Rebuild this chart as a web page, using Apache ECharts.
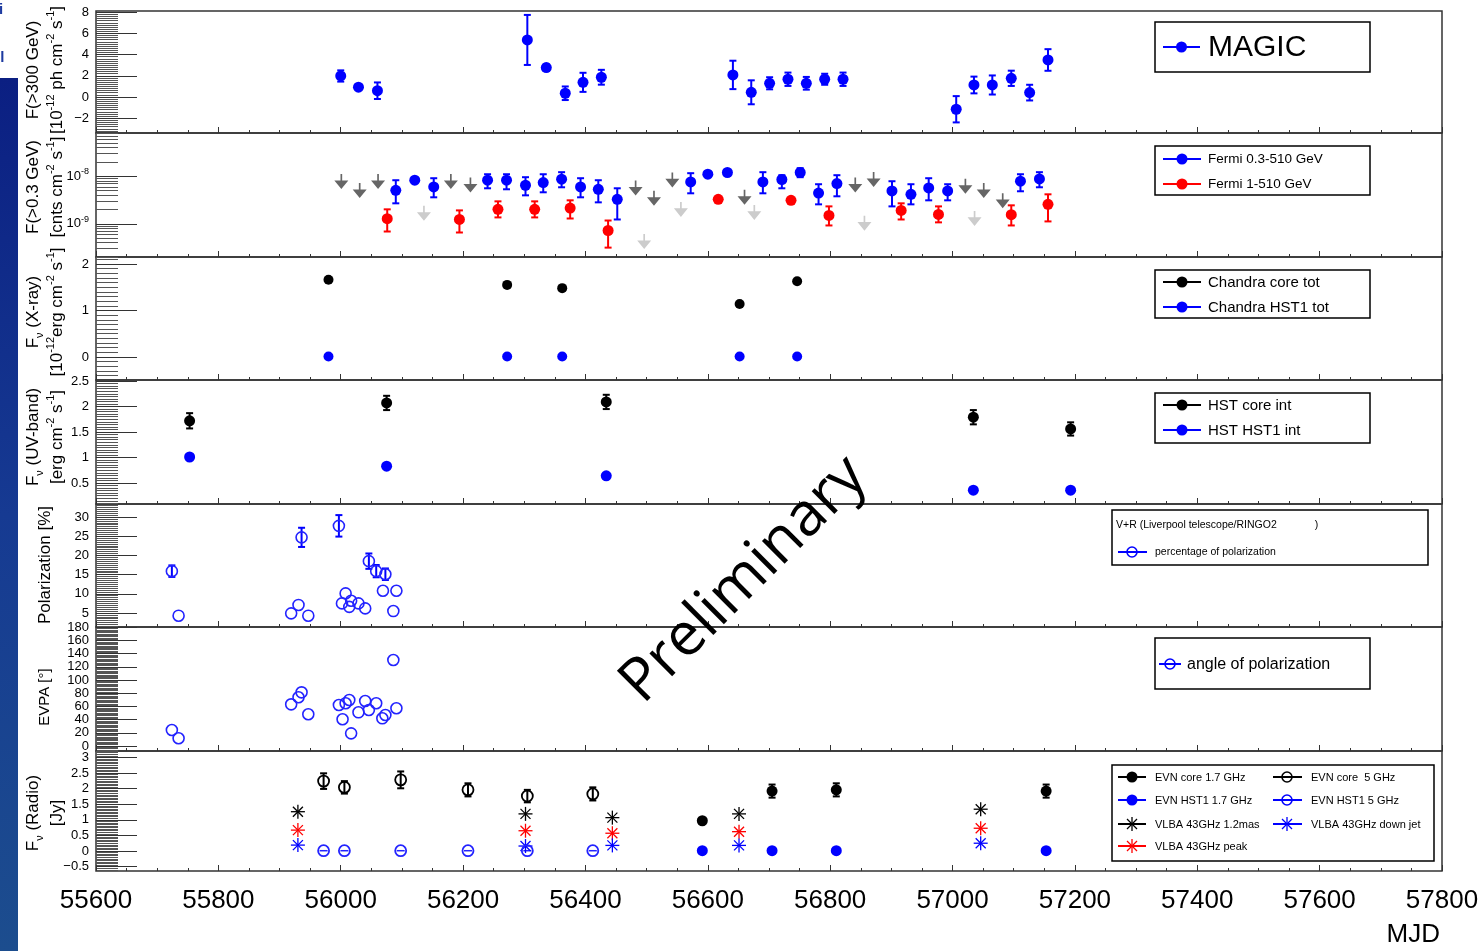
<!DOCTYPE html>
<html><head><meta charset="utf-8">
<script src="https://cdn.jsdelivr.net/npm/echarts@6/dist/echarts.min.js"></script>
<style>html,body{margin:0;padding:0;background:#fff;}#c{width:1484px;height:951px;}</style>
</head><body><div id="c"></div>
<script>
// ---------------- DATA ----------------
const mjdTicks = [55600, 55800, 56000, 56200, 56400, 56600, 56800, 57000, 57200, 57400, 57600, 57800];
const magicTicks = [-2, 0, 2, 4, 6, 8];
const fermiTicks = [1e-9, 1e-8];
const xrayTicks = [0, 1, 2];
const uvTicks = [0.5, 1, 1.5, 2, 2.5];
const polTicks = [5, 10, 15, 20, 25, 30];
const evpaTicks = [0, 20, 40, 60, 80, 100, 120, 140, 160, 180];
const radioTicks = [-0.5, 0, 0.5, 1, 1.5, 2, 2.5, 3];

// MAGIC F(>300 GeV) [1e-12 ph cm-2 s-1]
const magicMJD  = [56000, 56029, 56060, 56305, 56336, 56367, 56396, 56426, 56641, 56671, 56701, 56731, 56761, 56791, 56821, 57006, 57035, 57065, 57096, 57126, 57156];
const magicFlux = [1.98, 0.92, 0.59, 5.38, 2.77, 0.35, 1.38, 1.86, 2.08, 0.44, 1.29, 1.67, 1.29, 1.67, 1.67, -1.16, 1.13, 1.13, 1.76, 0.41, 3.49];
const magicErr  = [0.53, 0.2, 0.78, 2.36, 0.3, 0.64, 0.9, 0.7, 1.34, 1.13, 0.57, 0.63, 0.6, 0.52, 0.63, 1.24, 0.79, 0.9, 0.72, 0.74, 1.02];

// Fermi 0.3-510 GeV
const fermiMJD  = [56090, 56121, 56152, 56240, 56271, 56302, 56331, 56361, 56392, 56421, 56452, 56572, 56600, 56632, 56690, 56721, 56751, 56781, 56811, 56901, 56932, 56961, 56992, 57111, 57142];
const fermiFlux = [5.06e-9, 8.23e-9, 5.94e-9, 8.23e-9, 8.23e-9, 6.45e-9, 7.36e-9, 8.64e-9, 5.94e-9, 5.31e-9, 3.26e-9, 7.58e-9, 1.10e-8, 1.197e-8, 7.58e-9, 8.52e-9, 1.197e-8, 4.43e-9, 7.01e-9, 4.89e-9, 4.16e-9, 5.66e-9, 4.89e-9, 7.84e-9, 8.77e-9];
const fermiLo   = [2.69e-9, 7.6e-9, 3.60e-9, 5.57e-9, 5.31e-9, 3.96e-9, 4.59e-9, 5.85e-9, 3.60e-9, 2.82e-9, 1.23e-9, 4.37e-9, 1.02e-8, 1.11e-8, 4.37e-9, 5.57e-9, 9.53e-9, 2.56e-9, 3.78e-9, 2.32e-9, 2.56e-9, 3.11e-9, 3.11e-9, 4.82e-9, 5.85e-9];
const fermiHi   = [8.23e-9, 8.9e-9, 9.07e-9, 1.10e-8, 1.10e-8, 9.53e-9, 1.10e-8, 1.215e-8, 9.07e-9, 8.23e-9, 5.57e-9, 1.157e-8, 1.19e-8, 1.29e-8, 1.215e-8, 1.05e-8, 1.476e-8, 6.78e-9, 1.05e-8, 7.84e-9, 6.78e-9, 9.07e-9, 6.78e-9, 1.10e-8, 1.215e-8];
// Fermi 1-510 GeV
const fermiHMJD  = [56076, 56194, 56257, 56317, 56375, 56437, 56617, 56736, 56798, 56916, 56977, 57096, 57156];
const fermiHFlux = [1.28e-9, 1.23e-9, 2.01e-9, 2.01e-9, 2.14e-9, 7.22e-10, 3.26e-9, 3.11e-9, 1.50e-9, 1.91e-9, 1.57e-9, 1.55e-9, 2.56e-9];
const fermiHLo   = [6.87e-10, 6.55e-10, 1.36e-9, 1.36e-9, 1.29e-9, 3.15e-10, 3.0e-9, 2.85e-9, 9.21e-10, 1.23e-9, 1.07e-9, 9.21e-10, 1.12e-9];
const fermiHHi   = [2.01e-9, 1.91e-9, 2.96e-9, 2.96e-9, 3.11e-9, 1.17e-9, 3.5e-9, 3.35e-9, 2.32e-9, 2.69e-9, 2.32e-9, 2.44e-9, 4.16e-9];
// upper limits
const fermiULMJD = [56001, 56031, 56061, 56180, 56212, 56482, 56512, 56542, 56660, 56841, 56871, 57021, 57051, 57082];
const fermiUL    = [6.68e-9, 4.31e-9, 6.68e-9, 6.68e-9, 5.66e-9, 4.89e-9, 2.96e-9, 7.22e-9, 3.11e-9, 5.66e-9, 7.36e-9, 5.31e-9, 4.31e-9, 2.65e-9];
const fermiHULMJD = [56136, 56496, 56556, 56676, 56856, 57036];
const fermiHUL    = [1.43e-9, 3.65e-10, 1.73e-9, 1.50e-9, 8.90e-10, 1.12e-9];

// Chandra
const chandraMJD  = [55980, 56272, 56362, 56652, 56746];
const chandraCore = [1.66, 1.55, 1.48, 1.14, 1.63];
const chandraHST1 = [0.01, 0.01, 0.01, 0.01, 0.01];

// HST
const hstMJD     = [55753, 56075, 56434, 57034, 57193];
const hstCore    = [1.72, 2.07, 2.09, 1.79, 1.56];
const hstCoreErr = [0.15, 0.14, 0.14, 0.14, 0.13];
const hstHST1    = [1.01, 0.83, 0.64, 0.36, 0.36];

// Polarization (Liverpool/RINGO2)
const polMJD = [55724, 55735, 55919, 55931, 55936, 55947, 55997, 56002, 56008, 56014, 56017, 56029, 56040, 56046, 56058, 56069, 56073, 56086, 56091];
const polPct = [15.9, 4.3, 4.9, 7.1, 24.7, 4.3, 27.7, 7.5, 10.1, 6.6, 8.2, 7.5, 6.2, 18.5, 15.9, 10.8, 15.1, 5.5, 10.8];
const polErr = [1.5, 0, 0, 0, 2.5, 0, 2.8, 0, 0, 0, 0, 0, 0, 2.0, 1.6, 0, 1.5, 0, 0];
const evpaMJD = [55724, 55735, 55919, 55931, 55936, 55947, 55997, 56003, 56008, 56014, 56017, 56029, 56040, 56046, 56058, 56068, 56073, 56086, 56091];
const evpaDeg = [24.3, 11.7, 63.2, 73.9, 81.4, 48.1, 62.2, 40.5, 64.8, 69.8, 19.2, 51.1, 68.2, 54.6, 64.8, 42, 47, 130.4, 57.2];

// Radio
const evn5MJD     = [55972, 56006, 56098, 56208, 56305, 56412];
const evnCore5    = [2.24, 2.04, 2.28, 1.96, 1.76, 1.83];
const evnCore5Err = [0.25, 0.2, 0.27, 0.21, 0.2, 0.21];
const evnHST1_5   = [0.01, 0.01, 0.01, 0.01, 0.01, 0.01];
const evn17MJD     = [56591, 56705, 56810, 57153];
const evnCore17    = [0.97, 1.92, 1.96, 1.92];
const evnCore17Err = [0.0, 0.21, 0.21, 0.21];
const evnHST1_17   = [0.01, 0.01, 0.01, 0.01];
const vlbaMJD   = [55930, 56302, 56444, 56651, 57046];
const vlba12mas = [1.26, 1.19, 1.07, 1.19, 1.34];
const vlbaPeak  = [0.67, 0.65, 0.57, 0.62, 0.73];
const vlbaDown  = [0.19, 0.16, 0.18, 0.18, 0.25];

// ---------------- STYLE / LAYOUT ----------------
const FONT = '"Liberation Sans", Arial, Helvetica, sans-serif';
const BLUE = '#0000ff', RED = '#ff0000', BLACK = '#000000', DGRAY = '#666666', LGRAY = '#cccccc', RING = '#2323ff';
const AX = '#333333', AXM = '#555555';

const panels = [
  {top: 11,  height: 122, type: 'value', min: -3.4,   max: 8.11,  ticks: magicTicks, minorStep: 0.2},
  {top: 133, height: 124, type: 'log',   min: 2.0e-10, max: 8.1e-8, ticks: fermiTicks},
  {top: 257, height: 123, type: 'value', min: -0.495, max: 2.15,  ticks: xrayTicks, minorStep: 0.1},
  {top: 380, height: 124, type: 'value', min: 0.088,  max: 2.52,  ticks: uvTicks, minorStep: 0.05},
  {top: 504, height: 123, type: 'value', min: 1.35,   max: 33.39, ticks: polTicks, minorStep: 0.5},
  {top: 627, height: 124, type: 'value', min: -7.6,   max: 180.5, ticks: evpaTicks, minorStep: 2},
  {top: 751, height: 120, type: 'value', min: -0.64,  max: 3.205, ticks: radioTicks, minorStep: 0.05}
];

function linMinor(p) {
  const out = [];
  const k0 = Math.ceil(p.min / p.minorStep - 1e-9), k1 = Math.floor(p.max / p.minorStep + 1e-9);
  for (let k = k0; k <= k1; k++) {
    const v = Math.round(k * p.minorStep * 1e6) / 1e6;
    if (!p.ticks.some(t => Math.abs(t - v) < 1e-9)) out.push(v);
  }
  return out;
}
function logMinor(p) {
  const out = [];
  for (let e = -11; e <= -6; e++) for (let k = 2; k <= 9; k++) {
    const v = k * Math.pow(10, e);
    if (v >= p.min && v <= p.max) out.push(v);
  }
  return out;
}
const fmtNum = v => (v < 0 ? '\u2212' + Math.abs(v) : String(v));

const grids = panels.map(p => ({left: 96, width: 1346, top: p.top, height: p.height, show: true,
  borderColor: AX, borderWidth: 1.5, backgroundColor: 'transparent', outerBoundsMode: 'none', containLabel: false}));

const xAxes = panels.map((p, i) => ({
  type: 'value', gridIndex: i, min: 55600, max: 57800, interval: 200, position: 'bottom',
  axisLine: {show: false, onZero: false},
  axisTick: {show: true, inside: true, length: 6, lineStyle: {color: AX, width: 1}},
  minorTick: {show: true, splitNumber: 4, length: 3, lineStyle: {color: AX, width: 1}},
  splitLine: {show: false}, minorSplitLine: {show: false},
  axisLabel: {show: i === panels.length - 1, customValues: mjdTicks, fontSize: 26, margin: 17, color: '#000',
    fontFamily: FONT, formatter: v => String(v)}
}));

const yAxes = [];
panels.forEach((p, i) => {
  const isLog = p.type === 'log';
  const base = {type: p.type, gridIndex: i, min: p.min, max: p.max, position: 'left', splitLine: {show: false},
    axisLine: {show: false, onZero: false}};
  if (isLog) base.logBase = 10;
  yAxes.push(Object.assign({}, base, {
    axisTick: {show: true, inside: true, length: 41, customValues: p.ticks, lineStyle: {color: AX, width: 1}},
    axisLabel: isLog ? {
      customValues: p.ticks, margin: 7,
      formatter: v => '{b|10}{s|' + Math.round(Math.log10(v)) + '}',
      rich: {b: {fontSize: 13, color: '#000', fontFamily: FONT, lineHeight: 18},
             s: {fontSize: 9, color: '#000', fontFamily: FONT, verticalAlign: 'top', lineHeight: 10}}
    } : {customValues: p.ticks, margin: 7, fontSize: 13, color: '#000', fontFamily: FONT, formatter: fmtNum}
  }));
  yAxes.push(Object.assign({}, base, {
    axisTick: {show: true, inside: true, length: 22, customValues: isLog ? logMinor(p) : linMinor(p), lineStyle: {color: AXM, width: 1}},
    axisLabel: {show: false}
  }));
});

// ---------------- SERIES ----------------
const S = [];
const pairs = (xs, ys) => xs.map((x, k) => [x, ys[k]]);

function errBars(gi, xs, lo, hi, color, keep) {
  const data = [];
  xs.forEach((x, k) => { if (!keep || keep[k]) data.push([x, lo[k], hi[k]]); });
  S.push({type: 'custom', xAxisIndex: gi, yAxisIndex: 2 * gi, z: 2, silent: true, data,
    encode: {x: 0, y: [1, 2]},
    renderItem: (params, api) => {
      const a = api.coord([api.value(0), api.value(1)]);
      const b = api.coord([api.value(0), api.value(2)]);
      const st = {stroke: color, lineWidth: 2};
      const c = 3.5;
      return {type: 'group', children: [
        {type: 'line', shape: {x1: a[0], y1: a[1], x2: b[0], y2: b[1]}, style: st},
        {type: 'line', shape: {x1: a[0] - c, y1: a[1], x2: a[0] + c, y2: a[1]}, style: st},
        {type: 'line', shape: {x1: b[0] - c, y1: b[1], x2: b[0] + c, y2: b[1]}, style: st}
      ]};
    }});
}
function dots(gi, xs, ys, color, size) {
  S.push({type: 'scatter', xAxisIndex: gi, yAxisIndex: 2 * gi, z: 3, silent: true, symbol: 'circle',
    symbolSize: size || 11, itemStyle: {color: color, opacity: 1}, data: pairs(xs, ys)});
}
function rings(gi, xs, ys, color, size, bw) {
  S.push({type: 'scatter', xAxisIndex: gi, yAxisIndex: 2 * gi, z: 3, silent: true, symbol: 'circle',
    symbolSize: size || 11, itemStyle: {color: 'rgba(255,255,255,0)', borderColor: color, borderWidth: bw || 1.7, opacity: 1},
    data: pairs(xs, ys)});
}
function ulArrows(gi, xs, ys, color) {
  S.push({type: 'scatter', xAxisIndex: gi, yAxisIndex: 2 * gi, z: 3, silent: true,
    symbol: 'path://M4.4,0 L5.6,0 L5.6,6 L10,6 L5,14 L0,6 L4.4,6 Z', symbolSize: [14, 15], symbolOffset: [0, -3],
    itemStyle: {color: color, opacity: 1}, data: pairs(xs, ys)});
}
function stars(gi, xs, ys, color) {
  S.push({type: 'custom', xAxisIndex: gi, yAxisIndex: 2 * gi, z: 3, silent: true, data: pairs(xs, ys),
    encode: {x: 0, y: 1},
    renderItem: (params, api) => {
      const p = api.coord([api.value(0), api.value(1)]);
      const r = 7, d = 5;
      const st = {stroke: color, lineWidth: 1.3};
      return {type: 'group', children: [
        {type: 'line', shape: {x1: p[0] - r, y1: p[1], x2: p[0] + r, y2: p[1]}, style: st},
        {type: 'line', shape: {x1: p[0], y1: p[1] - r, x2: p[0], y2: p[1] + r}, style: st},
        {type: 'line', shape: {x1: p[0] - d, y1: p[1] - d, x2: p[0] + d, y2: p[1] + d}, style: st},
        {type: 'line', shape: {x1: p[0] - d, y1: p[1] + d, x2: p[0] + d, y2: p[1] - d}, style: st}
      ]};
    }});
}
function hbars(gi, xs, ys, color) {
  S.push({type: 'custom', xAxisIndex: gi, yAxisIndex: 2 * gi, z: 2, silent: true, data: pairs(xs, ys),
    encode: {x: 0, y: 1},
    renderItem: (params, api) => {
      const p = api.coord([api.value(0), api.value(1)]);
      return {type: 'line', shape: {x1: p[0] - 4, y1: p[1], x2: p[0] + 4, y2: p[1]}, style: {stroke: color, lineWidth: 1.5}};
    }});
}
const lo = (v, e) => v.map((x, k) => x - e[k]);
const hi = (v, e) => v.map((x, k) => x + e[k]);

// Panel 0: MAGIC
errBars(0, magicMJD, lo(magicFlux, magicErr), hi(magicFlux, magicErr), BLUE);
dots(0, magicMJD, magicFlux, BLUE);
// Panel 1: Fermi
ulArrows(1, fermiULMJD, fermiUL, DGRAY);
ulArrows(1, fermiHULMJD, fermiHUL, LGRAY);
errBars(1, fermiMJD, fermiLo, fermiHi, BLUE);
dots(1, fermiMJD, fermiFlux, BLUE);
errBars(1, fermiHMJD, fermiHLo, fermiHHi, RED);
dots(1, fermiHMJD, fermiHFlux, RED);
// Panel 2: Chandra
dots(2, chandraMJD, chandraCore, BLACK, 10);
dots(2, chandraMJD, chandraHST1, BLUE, 10);
// Panel 3: HST
errBars(3, hstMJD, lo(hstCore, hstCoreErr), hi(hstCore, hstCoreErr), BLACK);
dots(3, hstMJD, hstCore, BLACK);
dots(3, hstMJD, hstHST1, BLUE);
// Panel 4: polarization
errBars(4, polMJD, lo(polPct, polErr), hi(polPct, polErr), BLUE, polErr.map(e => e > 0));
rings(4, polMJD, polPct, RING, 11, 1.6);
// Panel 5: EVPA
rings(5, evpaMJD, evpaDeg, RING, 11, 1.6);
// Panel 6: Radio
errBars(6, evn5MJD, lo(evnCore5, evnCore5Err), hi(evnCore5, evnCore5Err), BLACK);
rings(6, evn5MJD, evnCore5, BLACK, 11, 1.8);
hbars(6, evn5MJD, evnHST1_5, RING);
rings(6, evn5MJD, evnHST1_5, RING, 11, 1.8);
errBars(6, evn17MJD, lo(evnCore17, evnCore17Err), hi(evnCore17, evnCore17Err), BLACK, evnCore17Err.map(e => e > 0));
dots(6, evn17MJD, evnCore17, BLACK);
dots(6, evn17MJD, evnHST1_17, BLUE);
stars(6, vlbaMJD, vlba12mas, BLACK);
stars(6, vlbaMJD, vlbaPeak, RED);
stars(6, vlbaMJD, vlbaDown, BLUE);

// ---------------- GRAPHICS (legends, titles, decorations) ----------------
const G = [];
function box(x, y, w, h) { G.push({type: 'rect', z: 40, shape: {x, y, width: w, height: h}, style: {fill: '#fff', stroke: '#000', lineWidth: 1.5}}); }
function hl(x1, x2, y, color) { G.push({type: 'line', z: 41, shape: {x1, y1: y, x2, y2: y}, style: {stroke: color, lineWidth: 2}}); }
function gdot(cx, cy, r, color) { G.push({type: 'circle', z: 42, shape: {cx, cy, r}, style: {fill: color}}); }
function gring(cx, cy, r, color) { G.push({type: 'circle', z: 42, shape: {cx, cy, r}, style: {fill: 'rgba(255,255,255,0)', stroke: color, lineWidth: 1.6}}); }
function gstar(cx, cy, color) {
  const r = 7, d = 5, st = {stroke: color, lineWidth: 1.3};
  [[-r, 0, r, 0], [0, -r, 0, r], [-d, -d, d, d], [-d, d, d, -d]].forEach(s =>
    G.push({type: 'line', z: 42, shape: {x1: cx + s[0], y1: cy + s[1], x2: cx + s[2], y2: cy + s[3]}, style: st}));
}
function gtext(x, y, text, size, extra) {
  G.push({type: 'text', z: 43, x, y, style: Object.assign({text, fontSize: size, fontFamily: FONT, fill: '#000',
    align: 'left', verticalAlign: 'middle', textAlign: 'left', textVerticalAlign: 'middle'}, extra || {})});
}
function legendRow(lx1, lx2, mx, y, color, kind, text, tx, size) {
  hl(lx1, lx2, y, color);
  if (kind === 'dot') gdot(mx, y, 5.5, color);
  else if (kind === 'ring') gring(mx, y, 5, color);
  else if (kind === 'star') gstar(mx, y, color);
  gtext(tx, y + 0.5, text, size);
}
// MAGIC
box(1155, 22, 215, 50);
legendRow(1163, 1200, 1181.5, 47, BLUE, 'dot', 'MAGIC', 1208, 30);
// Fermi
box(1155, 146, 215, 49);
legendRow(1163, 1201, 1182, 159, BLUE, 'dot', 'Fermi 0.3-510 GeV', 1208, 13.5);
legendRow(1163, 1201, 1182, 184, RED, 'dot', 'Fermi 1-510 GeV', 1208, 13.5);
// Chandra
box(1155, 270, 215, 48);
legendRow(1163, 1201, 1182, 282, BLACK, 'dot', 'Chandra core tot', 1208, 15);
legendRow(1163, 1201, 1182, 307, BLUE, 'dot', 'Chandra HST1 tot', 1208, 15);
// HST
box(1155, 393, 215, 50);
legendRow(1163, 1201, 1182, 405, BLACK, 'dot', 'HST core int', 1208, 15);
legendRow(1163, 1201, 1182, 430, BLUE, 'dot', 'HST HST1 int', 1208, 15);
// Polarization
box(1112, 510, 316, 55);
gtext(1116, 525, 'V+R (Liverpool telescope/RINGO2             )', 10.5);
legendRow(1118, 1147, 1132, 552, BLUE, 'ring', 'percentage of polarization', 1155, 10.5);
// EVPA
box(1155, 638, 215, 51);
legendRow(1159, 1181, 1170, 664, BLUE, 'ring', 'angle of polarization', 1187, 16);
// Radio
box(1112, 765, 322, 96);
legendRow(1118, 1146, 1132, 777, BLACK, 'dot', 'EVN core 1.7 GHz', 1155, 11);
legendRow(1118, 1146, 1132, 800, BLUE, 'dot', 'EVN HST1 1.7 GHz', 1155, 11);
legendRow(1118, 1146, 1132, 824, BLACK, 'star', 'VLBA 43GHz 1.2mas', 1155, 11);
legendRow(1118, 1146, 1132, 846, RED, 'star', 'VLBA 43GHz peak', 1155, 11);
legendRow(1273, 1302, 1287, 777, BLACK, 'ring', 'EVN core  5 GHz', 1311, 11);
legendRow(1273, 1302, 1287, 800, BLUE, 'ring', 'EVN HST1 5 GHz', 1311, 11);
legendRow(1273, 1302, 1287, 824, BLUE, 'star', 'VLBA 43GHz down jet', 1311, 11);

// Y-axis titles (rotated rich text)
function R(size) {
  const s = Math.round(size * 0.65);
  return {
    a: {fontSize: size, fontFamily: FONT, fill: '#000', lineHeight: 24},
    s: {fontSize: s, fontFamily: FONT, fill: '#000', verticalAlign: 'top', lineHeight: s + 1},
    u: {fontSize: s, fontFamily: FONT, fill: '#000', verticalAlign: 'bottom', lineHeight: s + 1}
  };
}
function vtitle(cx, cy, text, size) {
  G.push({type: 'text', z: 30, x: cx, y: cy, rotation: Math.PI / 2,
    style: {text, rich: R(size), align: 'center', verticalAlign: 'middle', textAlign: 'center', textVerticalAlign: 'middle'}});
}
vtitle(45, 70,  '{a|F(>300 GeV)}\n{a|[10}{s|-12}{a| ph cm}{s|-2}{a| s}{s|-1}{a|]}', 17);
vtitle(45, 187, '{a|F(>0.3 GeV)}\n{a|[cnts cm}{s|-2}{a| s}{s|-1}{a|]}', 17);
vtitle(45, 312, '{a|F}{u|\u03bd}{a| (X-ray)}\n{a|[10}{s|-12}{a|erg cm}{s|-2}{a| s}{s|-1}{a|]}', 17);
vtitle(45, 437, '{a|F}{u|\u03bd}{a| (UV-band)}\n{a|[erg cm}{s|-2}{a| s}{s|-1}{a|]}', 17);
vtitle(45, 565, '{a|Polarization [%]}', 17);
vtitle(45, 697, '{a|EVPA [\u00b0]}', 15);
vtitle(45, 813, '{a|F}{u|\u03bd}{a| (Radio)}\n{a|[Jy]}', 17);

// X axis title
gtext(1440, 935, 'MJD', 26, {align: 'right', textAlign: 'right'});

// Watermark
G.push({type: 'text', z: 60, x: 744, y: 580, rotation: Math.PI / 4,
  style: {text: 'Preliminary', fontSize: 60, fontFamily: '"Open Sans", sans-serif', fill: '#000',
    align: 'center', verticalAlign: 'middle', textAlign: 'center', textVerticalAlign: 'middle'}});

// Left slide decoration
G.push({type: 'rect', z: 1, shape: {x: 0, y: 78, width: 18, height: 873},
  style: {fill: new echarts.graphic.LinearGradient(0, 0, 0, 1, [{offset: 0, color: '#0b1f82'}, {offset: 0.5, color: '#163a92'}, {offset: 1, color: '#1c4d8e'}])}});
gtext(-1, 10, 'i', 15, {fill: '#1d3aa0', fontWeight: 'bold'});
gtext(-9, 58, 'pl', 15, {fill: '#1d3aa0', fontWeight: 'bold'});

// ---------------- CHART ----------------
const chart = echarts.init(document.getElementById('c'), null, {renderer: 'canvas'});
chart.setOption({
  animation: false,
  backgroundColor: '#ffffff',
  grid: grids,
  xAxis: xAxes,
  yAxis: yAxes,
  series: S,
  graphic: {elements: G}
});
</script></body></html>
